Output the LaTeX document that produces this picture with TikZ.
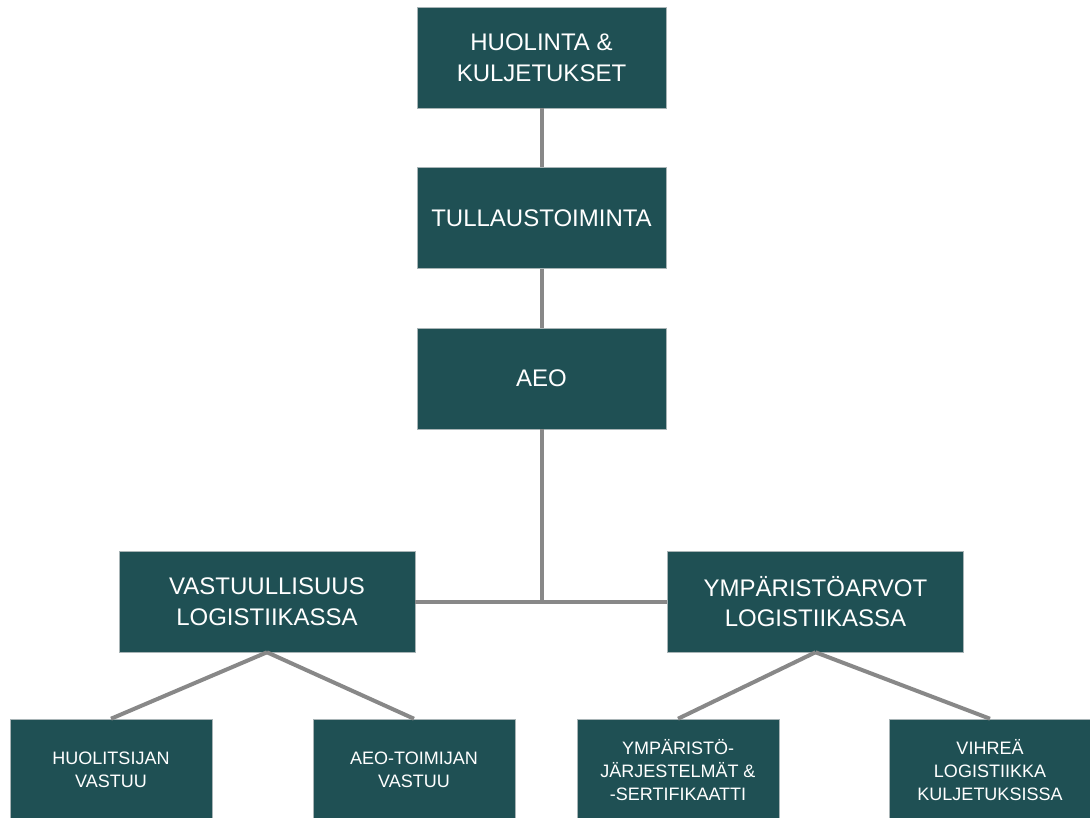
\documentclass[tikz,border=0pt]{standalone}
\usepackage{fontspec}
\setmainfont{Liberation Sans}
\usepackage{tikz}
\usetikzlibrary{positioning}
\definecolor{OrgTeal}{HTML}{1F5054}
\definecolor{OrgLine}{HTML}{888888}
\definecolor{OrgEdge}{HTML}{A8B4B6}
\tikzset{
  unit/.style={draw=OrgEdge,line width=0.4pt,fill=OrgTeal,text=white,align=center,
    inner sep=0pt,font=\fontsize{18}{23}\selectfont},
  top/.style={unit,minimum width=186.75pt,minimum height=75.75pt},
  mid/.style={unit,minimum width=222pt,minimum height=75.75pt},
  leaf/.style={unit,minimum width=151.5pt,minimum height=76.5pt,
    font=\fontsize{13.5}{17}\selectfont},
  link/.style={draw=OrgLine,line width=3pt}
}
\begin{document}
\begin{tikzpicture}[x=0.75pt,y=-0.75pt]
  \useasboundingbox (0,0) rectangle (1090,818);
  % chain at the top
  \node[top] (huolinta) at (541.5,57.5) {HUOLINTA \&\\KULJETUKSET};
  \node[top,below=44.25pt of huolinta] (tullaus) {TULLAUSTOIMINTA};
  \node[top,below=44.25pt of tullaus] (aeo) {AEO};
  % two branches
  \node[mid] (vastuu) at (267,601.5) {VASTUULLISUUS\\LOGISTIIKASSA};
  \node[mid] (ymparisto) at (815.5,601.5) {YMPÄRISTÖARVOT\\LOGISTIIKASSA};
  % leaves
  \node[leaf] (huolitsija) at (111,770) {HUOLITSIJAN\\VASTUU};
  \node[leaf] (toimija) at (414,770) {AEO-TOIMIJAN\\VASTUU};
  \node[leaf] (jarjestelma) at (678,770) {YMPÄRISTÖ-\\JÄRJESTELMÄT \&\\-SERTIFIKAATTI};
  \node[leaf] (vihrea) at (990,770) {VIHREÄ\\LOGISTIIKKA\\KULJETUKSISSA};
  \coordinate (fork) at (aeo.south |- vastuu.east);
  \draw[link] (huolinta) -- (tullaus);
  \draw[link] (tullaus) -- (aeo);
  \draw[link] (aeo) -- (fork);
  \draw[link] (vastuu) -- (ymparisto);
  \draw[link] (vastuu.south) -- (huolitsija.north);
  \draw[link] (vastuu.south) -- (toimija.north);
  \draw[link] (ymparisto.south) -- (jarjestelma.north);
  \draw[link] (ymparisto.south) -- (vihrea.north);
\end{tikzpicture}
\end{document}
